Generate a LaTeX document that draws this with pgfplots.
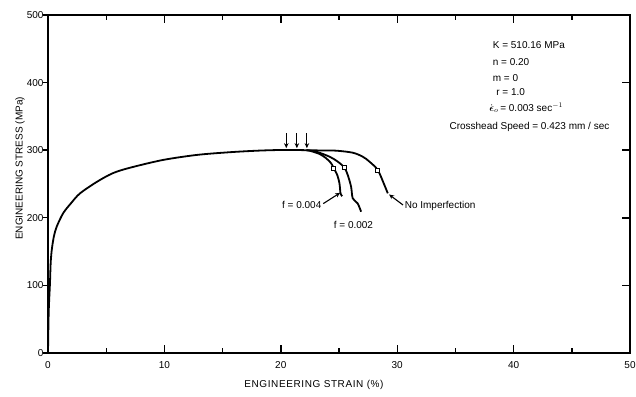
\documentclass[border=0pt]{standalone}
\usepackage{amsmath}
\usepackage{pgfplots}
\pgfplotsset{compat=1.18}
\usepackage{fontspec}
\setmainfont{Liberation Sans}
\usetikzlibrary{arrows.meta}

\begin{document}
\begin{tikzpicture}
\pgfplotsset{
  base/.style={
    scale only axis, width=582pt, height=338pt,
    xmin=0, xmax=50, ymin=0, ymax=500,
    /pgf/number format/assume math mode=true,
    tick label style={font=\fontsize{10}{12}\selectfont},
    axis line style={line width=1.4pt},
    tick style={line width=1.4pt, black},
  }
}
% main axis: frame, x ticks (inside, both), right y ticks (inside), data
\begin{axis}[base, name=main,
  xtick={0,10,...,50}, minor xtick={5,15,...,45},
  xtick pos=both, xticklabel pos=lower,
  ytick={100,200,300,400}, ytick pos=right, yticklabels={},
  tick align=inside,
  major tick length=8pt, minor tick length=5pt,
  xticklabel style={yshift=-5pt},
  xlabel={\addfontfeature{LetterSpace=6}ENGINEERING STRAIN (\%)},
  ylabel={ENGINEERING STRESS (MPa)},
  label style={font=\fontsize{10}{12}\selectfont},
  xlabel style={at={(axis description cs:0.457,-0.095)}, anchor=center},
  ylabel style={at={(axis description cs:-0.048,0.546)}, anchor=center, rotate=0},
]
% common curve
\addplot[black, line width=1.8pt, smooth, tension=0.5] coordinates {
(0,0) (0.06,60) (0.17,103.5) (0.23,133) (0.32,152) (0.5,172) (0.75,187) (1.31,207)
(2.0,222) (2.74,236) (4.18,253) (5.57,266) (7.03,274) (9.86,285.5) (12.78,293)
(15.6,297) (18,299.3) (19.9,300.3) (21.2,300.3) (22.19,300)
};
% no imperfection
\addplot[black, line width=1.8pt, smooth, tension=0.5] coordinates {
(22.19,300) (23.5,299.6) (24.76,299.3) (26.18,296.3) (27.04,290.4) (27.62,283)
(28.33,270.7) (28.9,248.5) (29.19,236.2)
};
% f = 0.002
\addplot[black, line width=1.8pt, smooth, tension=0.5] coordinates {
(22.19,300) (23.04,297.8) (24.19,290.4) (24.9,283) (25.47,274.1) (25.75,263.3)
(26.04,246) (26.18,228.8) (26.6,221.4) (26.9,209)
};
% f = 0.004
\addplot[black, line width=1.8pt, smooth, tension=0.5] coordinates {
(22.19,300) (22.47,299.3) (23.33,294.4) (23.9,288) (24.33,280.6) (24.55,273.2)
(24.85,263.3) (25.04,251) (25.13,236.2) (25.27,232)
};
% square markers
\addplot[only marks, mark=square*, mark size=2pt,
  mark options={fill=white, draw=black, line width=0.9pt}] coordinates {
(24.55,273.2) (25.47,274.1) (28.33,270.7)
};
% downward arrows
\addplot[black, line width=1.1pt, -{Stealth[length=5pt,width=4.5pt]},
  quiver={u=0, v=\thisrow{v}}] table[x=x, y=y, row sep=\\] {
x y v \\
20.47 325 -22 \\
21.38 325 -22 \\
22.24 325 -22 \\
};
% curve labels
\node[font=\fontsize{10}{12}\selectfont] at (axis cs:21.8,219) {f = 0.004};
\node[font=\fontsize{10}{12}\selectfont] at (axis cs:26.24,189.3) {f = 0.002};
\node[font=\fontsize{10}{12}\selectfont, anchor=west] at (axis cs:30.35,217.5) {No Imperfection};
\draw[line width=1.1pt, -{Stealth[length=5pt,width=4.5pt]}] (axis cs:23.65,221) -- (axis cs:25.1,237);
\draw[line width=1.1pt, -{Stealth[length=5pt,width=4.5pt]}] (axis cs:30.5,219) -- (axis cs:29.3,234.5);
% parameter block
\begin{scope}[every node/.style={font=\fontsize{10}{12}\selectfont, anchor=west, inner sep=0pt}]
\node at (axis cs:38.2,455.6) {K = 510.16 MPa};
\node at (axis cs:38.2,431) {n = 0.20};
\node at (axis cs:38.2,406) {m = 0};
\node at (axis cs:38.5,386.5) {r = 1.0};
\node at (axis cs:37.9,362.4) {$\dot{\boldsymbol{\epsilon}}_{o}$\,= 0.003 sec$^{-1}$};
\node at (axis cs:34.48,334.8) {Crosshead Speed = 0.423 mm / sec};
\end{scope}
\end{axis}
% left y ticks (outside) with labels
\begin{axis}[base,
  hide x axis, axis y line*=left,
  ytick={0,100,...,500}, tick align=outside, major tick length=5pt,
  yticklabel style={xshift=4pt},
]
\end{axis}
\pgfresetboundingbox
\path[use as bounding box] ([shift={(-48pt,-43pt)}]main.south west) rectangle ([shift={(6pt,15pt)}]main.north east);
\end{tikzpicture}
\end{document}
